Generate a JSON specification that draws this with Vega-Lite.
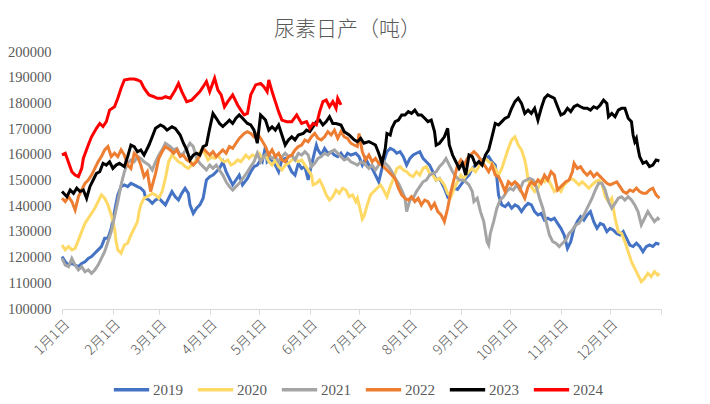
{
"$schema": "https://vega.github.io/schema/vega-lite/v6.json",
"width": 599, "height": 257,
"autosize": {"type": "none"},
"padding": {"left": 62, "top": 52, "right": 49, "bottom": 95},
"background": "white",
"title": {"text": "尿素日产（吨）", "font": "Noto Sans CJK SC", "fontSize": 21, "fontWeight": 300, "color": "#595959", "offset": 4, "anchor": "middle", "dx": -14},
"config": {"view": {"stroke": null}},
"data": {"values": [
{"year":"2019","day":0,"value":120400},{"year":"2019","day":2,"value":118400},{"year":"2019","day":4,"value":117100},{"year":"2019","day":6,"value":117700},{"year":"2019","day":8,"value":117100},{"year":"2019","day":10,"value":116500},{"year":"2019","day":12,"value":117700},{"year":"2019","day":14,"value":118400},{"year":"2019","day":16,"value":119700},{"year":"2019","day":18,"value":120400},{"year":"2019","day":20,"value":121700},{"year":"2019","day":22,"value":123000},{"year":"2019","day":24,"value":124300},{"year":"2019","day":26,"value":127500},{"year":"2019","day":28,"value":127500},{"year":"2019","day":30,"value":131400},{"year":"2019","day":32,"value":137900},{"year":"2019","day":34,"value":144400},{"year":"2019","day":36,"value":147600},{"year":"2019","day":38,"value":148300},{"year":"2019","day":40,"value":147600},{"year":"2019","day":42,"value":148900},{"year":"2019","day":44,"value":148300},{"year":"2019","day":46,"value":147600},{"year":"2019","day":48,"value":147000},{"year":"2019","day":50,"value":145700},{"year":"2019","day":51,"value":143100},{"year":"2019","day":53,"value":142400},{"year":"2019","day":55,"value":141100},{"year":"2019","day":57,"value":142400},{"year":"2019","day":59,"value":143100},{"year":"2019","day":61,"value":141800},{"year":"2019","day":63,"value":140500},{"year":"2019","day":65,"value":143100},{"year":"2019","day":67,"value":145700},{"year":"2019","day":69,"value":143700},{"year":"2019","day":71,"value":142400},{"year":"2019","day":73,"value":145000},{"year":"2019","day":75,"value":147000},{"year":"2019","day":77,"value":145000},{"year":"2019","day":78,"value":140500},{"year":"2019","day":80,"value":137200},{"year":"2019","day":82,"value":139200},{"year":"2019","day":84,"value":140500},{"year":"2019","day":86,"value":143100},{"year":"2019","day":88,"value":150200},{"year":"2019","day":90,"value":151500},{"year":"2019","day":92,"value":152100},{"year":"2019","day":94,"value":153400},{"year":"2019","day":96,"value":154700},{"year":"2019","day":98,"value":157300},{"year":"2019","day":100,"value":153400},{"year":"2019","day":102,"value":150800},{"year":"2019","day":104,"value":148300},{"year":"2019","day":106,"value":150200},{"year":"2019","day":108,"value":152100},{"year":"2019","day":110,"value":148300},{"year":"2019","day":113,"value":150800},{"year":"2019","day":115,"value":153400},{"year":"2019","day":117,"value":155400},{"year":"2019","day":119,"value":156000},{"year":"2019","day":121,"value":158000},{"year":"2019","day":122,"value":157300},{"year":"2019","day":124,"value":163200},{"year":"2019","day":125,"value":157300},{"year":"2019","day":127,"value":158600},{"year":"2019","day":130,"value":156000},{"year":"2019","day":132,"value":153400},{"year":"2019","day":134,"value":158000},{"year":"2019","day":136,"value":158600},{"year":"2019","day":138,"value":156000},{"year":"2019","day":140,"value":153400},{"year":"2019","day":142,"value":152100},{"year":"2019","day":144,"value":156700},{"year":"2019","day":146,"value":154700},{"year":"2019","day":148,"value":155400},{"year":"2019","day":150,"value":150200},{"year":"2019","day":152,"value":156000},{"year":"2019","day":154,"value":161200},{"year":"2019","day":155,"value":163800},{"year":"2019","day":156,"value":161900},{"year":"2019","day":158,"value":159900},{"year":"2019","day":160,"value":162500},{"year":"2019","day":162,"value":160600},{"year":"2019","day":164,"value":161200},{"year":"2019","day":166,"value":159900},{"year":"2019","day":168,"value":159300},{"year":"2019","day":170,"value":160600},{"year":"2019","day":172,"value":158600},{"year":"2019","day":174,"value":160600},{"year":"2019","day":176,"value":159900},{"year":"2019","day":179,"value":160600},{"year":"2019","day":181,"value":159300},{"year":"2019","day":183,"value":156000},{"year":"2019","day":185,"value":158600},{"year":"2019","day":187,"value":156000},{"year":"2019","day":189,"value":154700},{"year":"2019","day":191,"value":152100},{"year":"2019","day":193,"value":149500},{"year":"2019","day":194,"value":152100},{"year":"2019","day":196,"value":157300},{"year":"2019","day":198,"value":161200},{"year":"2019","day":200,"value":162500},{"year":"2019","day":202,"value":161900},{"year":"2019","day":204,"value":160600},{"year":"2019","day":206,"value":161200},{"year":"2019","day":208,"value":159300},{"year":"2019","day":210,"value":156000},{"year":"2019","day":212,"value":158600},{"year":"2019","day":214,"value":159900},{"year":"2019","day":216,"value":160600},{"year":"2019","day":218,"value":161200},{"year":"2019","day":220,"value":158600},{"year":"2019","day":222,"value":157300},{"year":"2019","day":224,"value":156000},{"year":"2019","day":226,"value":153400},{"year":"2019","day":228,"value":150200},{"year":"2019","day":230,"value":150800},{"year":"2019","day":233,"value":147000},{"year":"2019","day":235,"value":143700},{"year":"2019","day":237,"value":145000},{"year":"2019","day":239,"value":147000},{"year":"2019","day":241,"value":146500},{"year":"2019","day":243,"value":148300},{"year":"2019","day":246,"value":150800},{"year":"2019","day":248,"value":152100},{"year":"2019","day":250,"value":154700},{"year":"2019","day":252,"value":156000},{"year":"2019","day":254,"value":157300},{"year":"2019","day":256,"value":158000},{"year":"2019","day":258,"value":158600},{"year":"2019","day":260,"value":159300},{"year":"2019","day":262,"value":157300},{"year":"2019","day":264,"value":156000},{"year":"2019","day":265,"value":150800},{"year":"2019","day":266,"value":144400},{"year":"2019","day":268,"value":140500},{"year":"2019","day":270,"value":139800},{"year":"2019","day":272,"value":141100},{"year":"2019","day":274,"value":139200},{"year":"2019","day":276,"value":140500},{"year":"2019","day":278,"value":139800},{"year":"2019","day":280,"value":137900},{"year":"2019","day":282,"value":139800},{"year":"2019","day":284,"value":141100},{"year":"2019","day":286,"value":140500},{"year":"2019","day":288,"value":137900},{"year":"2019","day":290,"value":136600},{"year":"2019","day":292,"value":137200},{"year":"2019","day":294,"value":134600},{"year":"2019","day":296,"value":135300},{"year":"2019","day":298,"value":134600},{"year":"2019","day":300,"value":135300},{"year":"2019","day":302,"value":133300},{"year":"2019","day":304,"value":131400},{"year":"2019","day":306,"value":128800},{"year":"2019","day":308,"value":123600},{"year":"2019","day":310,"value":126200},{"year":"2019","day":312,"value":131400},{"year":"2019","day":314,"value":134000},{"year":"2019","day":316,"value":135900},{"year":"2019","day":318,"value":134600},{"year":"2019","day":320,"value":136600},{"year":"2019","day":322,"value":137900},{"year":"2019","day":324,"value":134000},{"year":"2019","day":326,"value":131400},{"year":"2019","day":328,"value":133300},{"year":"2019","day":330,"value":132700},{"year":"2019","day":332,"value":130100},{"year":"2019","day":334,"value":131400},{"year":"2019","day":336,"value":130700},{"year":"2019","day":338,"value":129400},{"year":"2019","day":340,"value":128800},{"year":"2019","day":342,"value":130100},{"year":"2019","day":344,"value":127500},{"year":"2019","day":346,"value":124900},{"year":"2019","day":348,"value":124300},{"year":"2019","day":350,"value":125600},{"year":"2019","day":352,"value":124300},{"year":"2019","day":354,"value":122300},{"year":"2019","day":356,"value":124300},{"year":"2019","day":358,"value":124900},{"year":"2019","day":360,"value":124300},{"year":"2019","day":362,"value":125600},{"year":"2019","day":364,"value":125200},
{"year":"2020","day":0,"value":124900},{"year":"2020","day":2,"value":123000},{"year":"2020","day":4,"value":124300},{"year":"2020","day":6,"value":123000},{"year":"2020","day":8,"value":123600},{"year":"2020","day":10,"value":126800},{"year":"2020","day":12,"value":130100},{"year":"2020","day":14,"value":133300},{"year":"2020","day":16,"value":135300},{"year":"2020","day":18,"value":137200},{"year":"2020","day":20,"value":139200},{"year":"2020","day":22,"value":141800},{"year":"2020","day":24,"value":144400},{"year":"2020","day":26,"value":143100},{"year":"2020","day":28,"value":140500},{"year":"2020","day":30,"value":136600},{"year":"2020","day":32,"value":131400},{"year":"2020","day":33,"value":126200},{"year":"2020","day":34,"value":123000},{"year":"2020","day":36,"value":121700},{"year":"2020","day":38,"value":124900},{"year":"2020","day":40,"value":125600},{"year":"2020","day":42,"value":128800},{"year":"2020","day":44,"value":131400},{"year":"2020","day":46,"value":134000},{"year":"2020","day":47,"value":137900},{"year":"2020","day":48,"value":140500},{"year":"2020","day":50,"value":143100},{"year":"2020","day":52,"value":143700},{"year":"2020","day":55,"value":145000},{"year":"2020","day":57,"value":144400},{"year":"2020","day":59,"value":143100},{"year":"2020","day":61,"value":145700},{"year":"2020","day":63,"value":150800},{"year":"2020","day":65,"value":157300},{"year":"2020","day":67,"value":159900},{"year":"2020","day":69,"value":158600},{"year":"2020","day":71,"value":157300},{"year":"2020","day":73,"value":156700},{"year":"2020","day":75,"value":155400},{"year":"2020","day":77,"value":154700},{"year":"2020","day":79,"value":156000},{"year":"2020","day":81,"value":157300},{"year":"2020","day":83,"value":159900},{"year":"2020","day":85,"value":161900},{"year":"2020","day":87,"value":160600},{"year":"2020","day":89,"value":158000},{"year":"2020","day":91,"value":159300},{"year":"2020","day":93,"value":158600},{"year":"2020","day":95,"value":159900},{"year":"2020","day":97,"value":158000},{"year":"2020","day":99,"value":157300},{"year":"2020","day":101,"value":158000},{"year":"2020","day":103,"value":156000},{"year":"2020","day":105,"value":156700},{"year":"2020","day":107,"value":158000},{"year":"2020","day":109,"value":157300},{"year":"2020","day":112,"value":159900},{"year":"2020","day":114,"value":158600},{"year":"2020","day":116,"value":159900},{"year":"2020","day":118,"value":159300},{"year":"2020","day":120,"value":160600},{"year":"2020","day":122,"value":158600},{"year":"2020","day":124,"value":159900},{"year":"2020","day":126,"value":157300},{"year":"2020","day":128,"value":156000},{"year":"2020","day":130,"value":158000},{"year":"2020","day":132,"value":155400},{"year":"2020","day":134,"value":154100},{"year":"2020","day":136,"value":156000},{"year":"2020","day":138,"value":156700},{"year":"2020","day":140,"value":158000},{"year":"2020","day":142,"value":158600},{"year":"2020","day":144,"value":157300},{"year":"2020","day":146,"value":158000},{"year":"2020","day":148,"value":156000},{"year":"2020","day":150,"value":154100},{"year":"2020","day":152,"value":152100},{"year":"2020","day":153,"value":148300},{"year":"2020","day":155,"value":148900},{"year":"2020","day":157,"value":150200},{"year":"2020","day":159,"value":147600},{"year":"2020","day":161,"value":144400},{"year":"2020","day":163,"value":142400},{"year":"2020","day":165,"value":143700},{"year":"2020","day":167,"value":146300},{"year":"2020","day":169,"value":145000},{"year":"2020","day":171,"value":147000},{"year":"2020","day":173,"value":146300},{"year":"2020","day":175,"value":143700},{"year":"2020","day":177,"value":144400},{"year":"2020","day":179,"value":141800},{"year":"2020","day":180,"value":143100},{"year":"2020","day":182,"value":137900},{"year":"2020","day":183,"value":135000},{"year":"2020","day":184,"value":136000},{"year":"2020","day":186,"value":140500},{"year":"2020","day":188,"value":144400},{"year":"2020","day":190,"value":145700},{"year":"2020","day":192,"value":147000},{"year":"2020","day":194,"value":148300},{"year":"2020","day":196,"value":146300},{"year":"2020","day":198,"value":143700},{"year":"2020","day":200,"value":147600},{"year":"2020","day":202,"value":150800},{"year":"2020","day":204,"value":154700},{"year":"2020","day":206,"value":155400},{"year":"2020","day":208,"value":154100},{"year":"2020","day":210,"value":153400},{"year":"2020","day":212,"value":152100},{"year":"2020","day":214,"value":151500},{"year":"2020","day":216,"value":153400},{"year":"2020","day":218,"value":152100},{"year":"2020","day":220,"value":154700},{"year":"2020","day":222,"value":155400},{"year":"2020","day":224,"value":152800},{"year":"2020","day":226,"value":152100},{"year":"2020","day":228,"value":150200},{"year":"2020","day":230,"value":150800},{"year":"2020","day":233,"value":148300},{"year":"2020","day":235,"value":145000},{"year":"2020","day":237,"value":143700},{"year":"2020","day":239,"value":147000},{"year":"2020","day":241,"value":149500},{"year":"2020","day":243,"value":152100},{"year":"2020","day":245,"value":150800},{"year":"2020","day":247,"value":152800},{"year":"2020","day":250,"value":154700},{"year":"2020","day":252,"value":153400},{"year":"2020","day":254,"value":155400},{"year":"2020","day":256,"value":157300},{"year":"2020","day":258,"value":158600},{"year":"2020","day":260,"value":157300},{"year":"2020","day":262,"value":156700},{"year":"2020","day":264,"value":154700},{"year":"2020","day":266,"value":152100},{"year":"2020","day":268,"value":154700},{"year":"2020","day":270,"value":158600},{"year":"2020","day":272,"value":162500},{"year":"2020","day":274,"value":165800},{"year":"2020","day":276,"value":167000},{"year":"2020","day":278,"value":163800},{"year":"2020","day":280,"value":161900},{"year":"2020","day":282,"value":158000},{"year":"2020","day":283,"value":154700},{"year":"2020","day":284,"value":150200},{"year":"2020","day":286,"value":147600},{"year":"2020","day":288,"value":145700},{"year":"2020","day":290,"value":147000},{"year":"2020","day":292,"value":150200},{"year":"2020","day":294,"value":149500},{"year":"2020","day":296,"value":150800},{"year":"2020","day":298,"value":148300},{"year":"2020","day":300,"value":145700},{"year":"2020","day":302,"value":147000},{"year":"2020","day":304,"value":145700},{"year":"2020","day":306,"value":148300},{"year":"2020","day":308,"value":149500},{"year":"2020","day":310,"value":150800},{"year":"2020","day":312,"value":150200},{"year":"2020","day":315,"value":148300},{"year":"2020","day":317,"value":149500},{"year":"2020","day":319,"value":148300},{"year":"2020","day":321,"value":147000},{"year":"2020","day":323,"value":148300},{"year":"2020","day":325,"value":149500},{"year":"2020","day":327,"value":150200},{"year":"2020","day":329,"value":148900},{"year":"2020","day":331,"value":143700},{"year":"2020","day":333,"value":141800},{"year":"2020","day":335,"value":143100},{"year":"2020","day":337,"value":135300},{"year":"2020","day":339,"value":130100},{"year":"2020","day":341,"value":129400},{"year":"2020","day":343,"value":126200},{"year":"2020","day":345,"value":122300},{"year":"2020","day":347,"value":118400},{"year":"2020","day":349,"value":115800},{"year":"2020","day":351,"value":113200},{"year":"2020","day":353,"value":110600},{"year":"2020","day":355,"value":111900},{"year":"2020","day":357,"value":113900},{"year":"2020","day":359,"value":112600},{"year":"2020","day":361,"value":114500},{"year":"2020","day":363,"value":113200},{"year":"2020","day":364,"value":113900},
{"year":"2021","day":0,"value":119700},{"year":"2021","day":2,"value":117100},{"year":"2021","day":4,"value":116500},{"year":"2021","day":6,"value":119700},{"year":"2021","day":8,"value":117100},{"year":"2021","day":10,"value":115200},{"year":"2021","day":12,"value":116500},{"year":"2021","day":14,"value":114500},{"year":"2021","day":16,"value":115200},{"year":"2021","day":18,"value":113900},{"year":"2021","day":20,"value":115200},{"year":"2021","day":22,"value":117100},{"year":"2021","day":24,"value":119700},{"year":"2021","day":26,"value":122300},{"year":"2021","day":28,"value":126200},{"year":"2021","day":30,"value":130100},{"year":"2021","day":32,"value":135900},{"year":"2021","day":34,"value":141800},{"year":"2021","day":36,"value":148300},{"year":"2021","day":38,"value":153400},{"year":"2021","day":40,"value":156700},{"year":"2021","day":42,"value":158000},{"year":"2021","day":44,"value":157300},{"year":"2021","day":46,"value":159300},{"year":"2021","day":48,"value":158600},{"year":"2021","day":50,"value":157300},{"year":"2021","day":53,"value":156000},{"year":"2021","day":55,"value":154100},{"year":"2021","day":57,"value":157300},{"year":"2021","day":59,"value":159900},{"year":"2021","day":61,"value":161900},{"year":"2021","day":63,"value":164500},{"year":"2021","day":66,"value":163200},{"year":"2021","day":68,"value":161900},{"year":"2021","day":70,"value":162500},{"year":"2021","day":72,"value":159900},{"year":"2021","day":74,"value":160600},{"year":"2021","day":76,"value":162500},{"year":"2021","day":78,"value":164500},{"year":"2021","day":80,"value":163200},{"year":"2021","day":82,"value":158600},{"year":"2021","day":84,"value":156700},{"year":"2021","day":86,"value":155400},{"year":"2021","day":88,"value":154100},{"year":"2021","day":90,"value":156000},{"year":"2021","day":92,"value":154700},{"year":"2021","day":94,"value":156000},{"year":"2021","day":96,"value":154100},{"year":"2021","day":98,"value":152100},{"year":"2021","day":100,"value":149500},{"year":"2021","day":102,"value":147600},{"year":"2021","day":104,"value":146300},{"year":"2021","day":106,"value":147600},{"year":"2021","day":108,"value":148900},{"year":"2021","day":111,"value":151500},{"year":"2021","day":113,"value":153400},{"year":"2021","day":115,"value":155400},{"year":"2021","day":117,"value":157300},{"year":"2021","day":119,"value":160600},{"year":"2021","day":121,"value":157300},{"year":"2021","day":123,"value":159300},{"year":"2021","day":125,"value":160600},{"year":"2021","day":128,"value":158600},{"year":"2021","day":130,"value":159300},{"year":"2021","day":132,"value":157300},{"year":"2021","day":134,"value":159300},{"year":"2021","day":136,"value":160600},{"year":"2021","day":138,"value":159300},{"year":"2021","day":140,"value":159900},{"year":"2021","day":142,"value":158000},{"year":"2021","day":144,"value":160600},{"year":"2021","day":146,"value":159900},{"year":"2021","day":148,"value":161200},{"year":"2021","day":150,"value":159900},{"year":"2021","day":152,"value":155400},{"year":"2021","day":154,"value":156700},{"year":"2021","day":156,"value":158600},{"year":"2021","day":158,"value":159300},{"year":"2021","day":160,"value":160600},{"year":"2021","day":162,"value":159900},{"year":"2021","day":164,"value":161200},{"year":"2021","day":166,"value":161900},{"year":"2021","day":168,"value":160600},{"year":"2021","day":170,"value":159300},{"year":"2021","day":172,"value":158000},{"year":"2021","day":174,"value":158600},{"year":"2021","day":176,"value":157300},{"year":"2021","day":178,"value":156700},{"year":"2021","day":180,"value":156000},{"year":"2021","day":182,"value":157300},{"year":"2021","day":184,"value":156700},{"year":"2021","day":187,"value":154700},{"year":"2021","day":189,"value":156000},{"year":"2021","day":191,"value":154100},{"year":"2021","day":193,"value":156000},{"year":"2021","day":195,"value":158600},{"year":"2021","day":197,"value":156700},{"year":"2021","day":199,"value":155400},{"year":"2021","day":201,"value":153400},{"year":"2021","day":203,"value":150800},{"year":"2021","day":205,"value":148900},{"year":"2021","day":207,"value":146300},{"year":"2021","day":209,"value":143100},{"year":"2021","day":210,"value":137900},{"year":"2021","day":212,"value":142400},{"year":"2021","day":214,"value":143100},{"year":"2021","day":216,"value":145700},{"year":"2021","day":218,"value":147600},{"year":"2021","day":220,"value":149500},{"year":"2021","day":222,"value":150200},{"year":"2021","day":224,"value":152100},{"year":"2021","day":226,"value":152800},{"year":"2021","day":228,"value":153400},{"year":"2021","day":230,"value":155400},{"year":"2021","day":232,"value":156700},{"year":"2021","day":234,"value":158600},{"year":"2021","day":236,"value":156000},{"year":"2021","day":238,"value":153400},{"year":"2021","day":240,"value":151500},{"year":"2021","day":242,"value":150200},{"year":"2021","day":244,"value":150200},{"year":"2021","day":246,"value":149500},{"year":"2021","day":248,"value":148300},{"year":"2021","day":250,"value":145700},{"year":"2021","day":251,"value":141800},{"year":"2021","day":253,"value":143100},{"year":"2021","day":255,"value":137900},{"year":"2021","day":257,"value":134000},{"year":"2021","day":258,"value":130100},{"year":"2021","day":259,"value":126200},{"year":"2021","day":260,"value":124900},{"year":"2021","day":261,"value":129400},{"year":"2021","day":263,"value":134000},{"year":"2021","day":265,"value":139200},{"year":"2021","day":267,"value":142400},{"year":"2021","day":269,"value":143700},{"year":"2021","day":271,"value":145700},{"year":"2021","day":273,"value":147000},{"year":"2021","day":275,"value":146300},{"year":"2021","day":277,"value":148300},{"year":"2021","day":279,"value":146300},{"year":"2021","day":281,"value":149500},{"year":"2021","day":283,"value":150200},{"year":"2021","day":285,"value":150800},{"year":"2021","day":287,"value":150200},{"year":"2021","day":289,"value":147600},{"year":"2021","day":291,"value":143100},{"year":"2021","day":293,"value":139200},{"year":"2021","day":295,"value":134000},{"year":"2021","day":297,"value":128800},{"year":"2021","day":299,"value":126200},{"year":"2021","day":301,"value":125600},{"year":"2021","day":303,"value":124300},{"year":"2021","day":305,"value":125600},{"year":"2021","day":307,"value":126800},{"year":"2021","day":309,"value":129400},{"year":"2021","day":311,"value":130700},{"year":"2021","day":313,"value":132700},{"year":"2021","day":315,"value":133300},{"year":"2021","day":317,"value":135300},{"year":"2021","day":319,"value":137900},{"year":"2021","day":321,"value":140500},{"year":"2021","day":323,"value":143100},{"year":"2021","day":325,"value":146300},{"year":"2021","day":327,"value":148900},{"year":"2021","day":329,"value":148900},{"year":"2021","day":331,"value":146300},{"year":"2021","day":333,"value":141800},{"year":"2021","day":335,"value":139200},{"year":"2021","day":337,"value":141100},{"year":"2021","day":339,"value":143100},{"year":"2021","day":341,"value":143700},{"year":"2021","day":343,"value":142400},{"year":"2021","day":345,"value":143700},{"year":"2021","day":347,"value":142400},{"year":"2021","day":349,"value":140500},{"year":"2021","day":351,"value":137900},{"year":"2021","day":353,"value":132700},{"year":"2021","day":355,"value":135300},{"year":"2021","day":357,"value":137900},{"year":"2021","day":359,"value":135900},{"year":"2021","day":361,"value":134000},{"year":"2021","day":363,"value":135300},{"year":"2021","day":364,"value":134600},
{"year":"2022","day":0,"value":143100},{"year":"2022","day":2,"value":141800},{"year":"2022","day":4,"value":143700},{"year":"2022","day":6,"value":141800},{"year":"2022","day":8,"value":138500},{"year":"2022","day":10,"value":143700},{"year":"2022","day":12,"value":146300},{"year":"2022","day":14,"value":148900},{"year":"2022","day":16,"value":150200},{"year":"2022","day":18,"value":152100},{"year":"2022","day":20,"value":154700},{"year":"2022","day":22,"value":157300},{"year":"2022","day":24,"value":159300},{"year":"2022","day":26,"value":161900},{"year":"2022","day":28,"value":163200},{"year":"2022","day":30,"value":159300},{"year":"2022","day":32,"value":160600},{"year":"2022","day":34,"value":159300},{"year":"2022","day":36,"value":161900},{"year":"2022","day":38,"value":159900},{"year":"2022","day":40,"value":156000},{"year":"2022","day":42,"value":154700},{"year":"2022","day":44,"value":160600},{"year":"2022","day":46,"value":159300},{"year":"2022","day":48,"value":156000},{"year":"2022","day":50,"value":151500},{"year":"2022","day":52,"value":153400},{"year":"2022","day":54,"value":145700},{"year":"2022","day":57,"value":152800},{"year":"2022","day":59,"value":158600},{"year":"2022","day":61,"value":161200},{"year":"2022","day":63,"value":163200},{"year":"2022","day":66,"value":161900},{"year":"2022","day":68,"value":160600},{"year":"2022","day":70,"value":161900},{"year":"2022","day":72,"value":159300},{"year":"2022","day":74,"value":159900},{"year":"2022","day":76,"value":158000},{"year":"2022","day":78,"value":157300},{"year":"2022","day":80,"value":156000},{"year":"2022","day":82,"value":157300},{"year":"2022","day":84,"value":159900},{"year":"2022","day":86,"value":162500},{"year":"2022","day":88,"value":161200},{"year":"2022","day":90,"value":159900},{"year":"2022","day":92,"value":161200},{"year":"2022","day":94,"value":159300},{"year":"2022","day":96,"value":160600},{"year":"2022","day":98,"value":161900},{"year":"2022","day":100,"value":160600},{"year":"2022","day":102,"value":163200},{"year":"2022","day":104,"value":162500},{"year":"2022","day":106,"value":164500},{"year":"2022","day":108,"value":166400},{"year":"2022","day":111,"value":168300},{"year":"2022","day":113,"value":169000},{"year":"2022","day":115,"value":168300},{"year":"2022","day":117,"value":167000},{"year":"2022","day":119,"value":168300},{"year":"2022","day":121,"value":166400},{"year":"2022","day":124,"value":163200},{"year":"2022","day":126,"value":159900},{"year":"2022","day":128,"value":161900},{"year":"2022","day":130,"value":159300},{"year":"2022","day":132,"value":160600},{"year":"2022","day":134,"value":158000},{"year":"2022","day":136,"value":157300},{"year":"2022","day":138,"value":159300},{"year":"2022","day":140,"value":159900},{"year":"2022","day":142,"value":161900},{"year":"2022","day":144,"value":163200},{"year":"2022","day":146,"value":163800},{"year":"2022","day":148,"value":165800},{"year":"2022","day":150,"value":165100},{"year":"2022","day":152,"value":167000},{"year":"2022","day":154,"value":168300},{"year":"2022","day":156,"value":166400},{"year":"2022","day":158,"value":165800},{"year":"2022","day":160,"value":167000},{"year":"2022","day":162,"value":169000},{"year":"2022","day":164,"value":167700},{"year":"2022","day":166,"value":169600},{"year":"2022","day":168,"value":166400},{"year":"2022","day":170,"value":169000},{"year":"2022","day":172,"value":167000},{"year":"2022","day":174,"value":166400},{"year":"2022","day":176,"value":164500},{"year":"2022","day":178,"value":163800},{"year":"2022","day":180,"value":163200},{"year":"2022","day":181,"value":168300},{"year":"2022","day":183,"value":161200},{"year":"2022","day":185,"value":158000},{"year":"2022","day":187,"value":159900},{"year":"2022","day":189,"value":157300},{"year":"2022","day":191,"value":158600},{"year":"2022","day":193,"value":156700},{"year":"2022","day":195,"value":156000},{"year":"2022","day":197,"value":154700},{"year":"2022","day":199,"value":153400},{"year":"2022","day":201,"value":152100},{"year":"2022","day":203,"value":150800},{"year":"2022","day":205,"value":147000},{"year":"2022","day":207,"value":144400},{"year":"2022","day":209,"value":143100},{"year":"2022","day":211,"value":142400},{"year":"2022","day":213,"value":143700},{"year":"2022","day":215,"value":141800},{"year":"2022","day":217,"value":143100},{"year":"2022","day":219,"value":140500},{"year":"2022","day":221,"value":142400},{"year":"2022","day":223,"value":141800},{"year":"2022","day":225,"value":139200},{"year":"2022","day":227,"value":141100},{"year":"2022","day":229,"value":137900},{"year":"2022","day":231,"value":136600},{"year":"2022","day":233,"value":134000},{"year":"2022","day":235,"value":139200},{"year":"2022","day":237,"value":145700},{"year":"2022","day":239,"value":150800},{"year":"2022","day":241,"value":156000},{"year":"2022","day":243,"value":158000},{"year":"2022","day":245,"value":156000},{"year":"2022","day":247,"value":158600},{"year":"2022","day":249,"value":159900},{"year":"2022","day":251,"value":161200},{"year":"2022","day":253,"value":160000},{"year":"2022","day":256,"value":157300},{"year":"2022","day":258,"value":155400},{"year":"2022","day":260,"value":153400},{"year":"2022","day":262,"value":156000},{"year":"2022","day":264,"value":152100},{"year":"2022","day":266,"value":151500},{"year":"2022","day":268,"value":148900},{"year":"2022","day":270,"value":145700},{"year":"2022","day":272,"value":149500},{"year":"2022","day":274,"value":148300},{"year":"2022","day":276,"value":149500},{"year":"2022","day":278,"value":148300},{"year":"2022","day":280,"value":145700},{"year":"2022","day":282,"value":143100},{"year":"2022","day":284,"value":147600},{"year":"2022","day":286,"value":149500},{"year":"2022","day":288,"value":148300},{"year":"2022","day":290,"value":150200},{"year":"2022","day":292,"value":148900},{"year":"2022","day":294,"value":152100},{"year":"2022","day":296,"value":150200},{"year":"2022","day":298,"value":153400},{"year":"2022","day":300,"value":152100},{"year":"2022","day":302,"value":146300},{"year":"2022","day":304,"value":147600},{"year":"2022","day":307,"value":149500},{"year":"2022","day":309,"value":150200},{"year":"2022","day":311,"value":153400},{"year":"2022","day":312,"value":156700},{"year":"2022","day":314,"value":154700},{"year":"2022","day":316,"value":155400},{"year":"2022","day":318,"value":153400},{"year":"2022","day":320,"value":152100},{"year":"2022","day":322,"value":153400},{"year":"2022","day":324,"value":151500},{"year":"2022","day":326,"value":152800},{"year":"2022","day":328,"value":151500},{"year":"2022","day":330,"value":150200},{"year":"2022","day":332,"value":148900},{"year":"2022","day":334,"value":148300},{"year":"2022","day":336,"value":148900},{"year":"2022","day":338,"value":149500},{"year":"2022","day":340,"value":147600},{"year":"2022","day":342,"value":145700},{"year":"2022","day":344,"value":145000},{"year":"2022","day":346,"value":146300},{"year":"2022","day":348,"value":145700},{"year":"2022","day":350,"value":147000},{"year":"2022","day":352,"value":145700},{"year":"2022","day":354,"value":145000},{"year":"2022","day":356,"value":145000},{"year":"2022","day":358,"value":146300},{"year":"2022","day":360,"value":147000},{"year":"2022","day":362,"value":144400},{"year":"2022","day":364,"value":143100},
{"year":"2023","day":0,"value":145700},{"year":"2023","day":3,"value":143700},{"year":"2023","day":5,"value":146300},{"year":"2023","day":7,"value":145000},{"year":"2023","day":9,"value":147000},{"year":"2023","day":11,"value":145700},{"year":"2023","day":13,"value":146300},{"year":"2023","day":15,"value":143100},{"year":"2023","day":17,"value":147600},{"year":"2023","day":19,"value":150200},{"year":"2023","day":21,"value":152800},{"year":"2023","day":23,"value":153400},{"year":"2023","day":25,"value":156700},{"year":"2023","day":27,"value":156000},{"year":"2023","day":29,"value":157300},{"year":"2023","day":31,"value":154700},{"year":"2023","day":33,"value":156000},{"year":"2023","day":35,"value":156700},{"year":"2023","day":38,"value":155400},{"year":"2023","day":40,"value":159300},{"year":"2023","day":42,"value":163800},{"year":"2023","day":44,"value":163200},{"year":"2023","day":46,"value":161200},{"year":"2023","day":48,"value":161900},{"year":"2023","day":50,"value":159900},{"year":"2023","day":53,"value":163800},{"year":"2023","day":55,"value":167000},{"year":"2023","day":57,"value":170300},{"year":"2023","day":60,"value":171600},{"year":"2023","day":62,"value":170900},{"year":"2023","day":64,"value":169600},{"year":"2023","day":67,"value":170900},{"year":"2023","day":69,"value":170300},{"year":"2023","day":72,"value":167700},{"year":"2023","day":74,"value":164500},{"year":"2023","day":76,"value":161900},{"year":"2023","day":78,"value":158000},{"year":"2023","day":80,"value":159900},{"year":"2023","day":82,"value":160600},{"year":"2023","day":84,"value":159900},{"year":"2023","day":86,"value":163200},{"year":"2023","day":88,"value":163800},{"year":"2023","day":90,"value":170300},{"year":"2023","day":92,"value":176100},{"year":"2023","day":94,"value":174200},{"year":"2023","day":96,"value":172200},{"year":"2023","day":98,"value":171000},{"year":"2023","day":100,"value":172200},{"year":"2023","day":102,"value":173500},{"year":"2023","day":104,"value":172200},{"year":"2023","day":106,"value":174200},{"year":"2023","day":108,"value":175500},{"year":"2023","day":110,"value":174200},{"year":"2023","day":113,"value":172200},{"year":"2023","day":115,"value":171600},{"year":"2023","day":117,"value":169600},{"year":"2023","day":119,"value":164500},{"year":"2023","day":121,"value":175500},{"year":"2023","day":123,"value":174200},{"year":"2023","day":124,"value":173500},{"year":"2023","day":126,"value":169600},{"year":"2023","day":128,"value":170900},{"year":"2023","day":130,"value":169600},{"year":"2023","day":132,"value":171600},{"year":"2023","day":134,"value":167700},{"year":"2023","day":136,"value":163800},{"year":"2023","day":138,"value":165800},{"year":"2023","day":140,"value":167000},{"year":"2023","day":142,"value":165800},{"year":"2023","day":144,"value":167700},{"year":"2023","day":147,"value":168300},{"year":"2023","day":149,"value":169600},{"year":"2023","day":151,"value":169000},{"year":"2023","day":153,"value":170900},{"year":"2023","day":155,"value":172900},{"year":"2023","day":157,"value":173500},{"year":"2023","day":159,"value":171600},{"year":"2023","day":161,"value":172900},{"year":"2023","day":163,"value":174800},{"year":"2023","day":165,"value":172200},{"year":"2023","day":167,"value":172200},{"year":"2023","day":170,"value":171600},{"year":"2023","day":172,"value":169000},{"year":"2023","day":175,"value":167700},{"year":"2023","day":178,"value":165800},{"year":"2023","day":180,"value":165100},{"year":"2023","day":182,"value":166400},{"year":"2023","day":184,"value":164500},{"year":"2023","day":187,"value":165100},{"year":"2023","day":189,"value":164500},{"year":"2023","day":191,"value":163800},{"year":"2023","day":193,"value":160600},{"year":"2023","day":195,"value":156700},{"year":"2023","day":197,"value":162500},{"year":"2023","day":198,"value":168300},{"year":"2023","day":200,"value":167700},{"year":"2023","day":201,"value":170300},{"year":"2023","day":203,"value":172900},{"year":"2023","day":205,"value":173500},{"year":"2023","day":207,"value":175500},{"year":"2023","day":209,"value":175500},{"year":"2023","day":211,"value":176800},{"year":"2023","day":213,"value":176100},{"year":"2023","day":215,"value":177400},{"year":"2023","day":217,"value":175500},{"year":"2023","day":219,"value":175500},{"year":"2023","day":221,"value":174200},{"year":"2023","day":223,"value":172900},{"year":"2023","day":225,"value":173500},{"year":"2023","day":227,"value":169000},{"year":"2023","day":228,"value":163800},{"year":"2023","day":230,"value":164500},{"year":"2023","day":233,"value":167000},{"year":"2023","day":235,"value":170300},{"year":"2023","day":236,"value":163800},{"year":"2023","day":238,"value":159900},{"year":"2023","day":240,"value":157300},{"year":"2023","day":242,"value":154700},{"year":"2023","day":244,"value":156700},{"year":"2023","day":246,"value":152100},{"year":"2023","day":248,"value":159900},{"year":"2023","day":250,"value":159300},{"year":"2023","day":252,"value":156000},{"year":"2023","day":254,"value":157300},{"year":"2023","day":256,"value":156000},{"year":"2023","day":258,"value":159900},{"year":"2023","day":260,"value":161900},{"year":"2023","day":262,"value":167000},{"year":"2023","day":264,"value":172200},{"year":"2023","day":266,"value":171600},{"year":"2023","day":268,"value":172900},{"year":"2023","day":270,"value":174200},{"year":"2023","day":272,"value":174800},{"year":"2023","day":274,"value":178100},{"year":"2023","day":276,"value":180700},{"year":"2023","day":278,"value":182000},{"year":"2023","day":280,"value":180000},{"year":"2023","day":282,"value":176100},{"year":"2023","day":284,"value":177400},{"year":"2023","day":286,"value":176100},{"year":"2023","day":288,"value":178100},{"year":"2023","day":290,"value":173500},{"year":"2023","day":292,"value":178100},{"year":"2023","day":294,"value":182000},{"year":"2023","day":296,"value":183300},{"year":"2023","day":298,"value":182600},{"year":"2023","day":300,"value":182000},{"year":"2023","day":302,"value":178700},{"year":"2023","day":304,"value":175500},{"year":"2023","day":306,"value":176100},{"year":"2023","day":308,"value":178100},{"year":"2023","day":310,"value":176800},{"year":"2023","day":312,"value":178700},{"year":"2023","day":314,"value":179400},{"year":"2023","day":316,"value":178700},{"year":"2023","day":318,"value":178100},{"year":"2023","day":320,"value":178100},{"year":"2023","day":322,"value":177400},{"year":"2023","day":324,"value":178700},{"year":"2023","day":326,"value":178100},{"year":"2023","day":328,"value":179400},{"year":"2023","day":330,"value":181300},{"year":"2023","day":332,"value":180000},{"year":"2023","day":333,"value":174800},{"year":"2023","day":335,"value":176100},{"year":"2023","day":337,"value":174800},{"year":"2023","day":339,"value":177400},{"year":"2023","day":341,"value":178100},{"year":"2023","day":343,"value":178100},{"year":"2023","day":345,"value":174200},{"year":"2023","day":347,"value":172900},{"year":"2023","day":348,"value":167700},{"year":"2023","day":349,"value":165100},{"year":"2023","day":350,"value":166400},{"year":"2023","day":351,"value":162500},{"year":"2023","day":352,"value":159300},{"year":"2023","day":354,"value":156700},{"year":"2023","day":356,"value":157300},{"year":"2023","day":358,"value":155400},{"year":"2023","day":360,"value":156000},{"year":"2023","day":362,"value":158000},{"year":"2023","day":364,"value":157600},
{"year":"2024","day":0,"value":160000},{"year":"2024","day":2,"value":160600},{"year":"2024","day":4,"value":157000},{"year":"2024","day":6,"value":153400},{"year":"2024","day":8,"value":152100},{"year":"2024","day":10,"value":151500},{"year":"2024","day":12,"value":154700},{"year":"2024","day":13,"value":158600},{"year":"2024","day":16,"value":163800},{"year":"2024","day":18,"value":167000},{"year":"2024","day":21,"value":170300},{"year":"2024","day":23,"value":172200},{"year":"2024","day":25,"value":171000},{"year":"2024","day":27,"value":172900},{"year":"2024","day":29,"value":177400},{"year":"2024","day":32,"value":178700},{"year":"2024","day":34,"value":182000},{"year":"2024","day":36,"value":185900},{"year":"2024","day":38,"value":189100},{"year":"2024","day":41,"value":189500},{"year":"2024","day":44,"value":189500},{"year":"2024","day":46,"value":189100},{"year":"2024","day":48,"value":188500},{"year":"2024","day":50,"value":185900},{"year":"2024","day":53,"value":183300},{"year":"2024","day":56,"value":182600},{"year":"2024","day":58,"value":182000},{"year":"2024","day":61,"value":182000},{"year":"2024","day":63,"value":182600},{"year":"2024","day":66,"value":182000},{"year":"2024","day":69,"value":185200},{"year":"2024","day":71,"value":187800},{"year":"2024","day":73,"value":184600},{"year":"2024","day":76,"value":180700},{"year":"2024","day":79,"value":181300},{"year":"2024","day":82,"value":183300},{"year":"2024","day":84,"value":184600},{"year":"2024","day":86,"value":186500},{"year":"2024","day":88,"value":188500},{"year":"2024","day":90,"value":184600},{"year":"2024","day":93,"value":189800},{"year":"2024","day":95,"value":185200},{"year":"2024","day":97,"value":183300},{"year":"2024","day":99,"value":178700},{"year":"2024","day":101,"value":180700},{"year":"2024","day":104,"value":183300},{"year":"2024","day":107,"value":179400},{"year":"2024","day":109,"value":177400},{"year":"2024","day":111,"value":175500},{"year":"2024","day":113,"value":176100},{"year":"2024","day":115,"value":183300},{"year":"2024","day":118,"value":187200},{"year":"2024","day":121,"value":187800},{"year":"2024","day":123,"value":186500},{"year":"2024","day":125,"value":184600},{"year":"2024","day":126,"value":189100},{"year":"2024","day":128,"value":184600},{"year":"2024","day":130,"value":180700},{"year":"2024","day":132,"value":176800},{"year":"2024","day":134,"value":173500},{"year":"2024","day":137,"value":172900},{"year":"2024","day":140,"value":172900},{"year":"2024","day":143,"value":175500},{"year":"2024","day":146,"value":172200},{"year":"2024","day":149,"value":172900},{"year":"2024","day":151,"value":170300},{"year":"2024","day":153,"value":172200},{"year":"2024","day":155,"value":171600},{"year":"2024","day":157,"value":176800},{"year":"2024","day":159,"value":180700},{"year":"2024","day":161,"value":181300},{"year":"2024","day":163,"value":178700},{"year":"2024","day":165,"value":180700},{"year":"2024","day":167,"value":178100},{"year":"2024","day":168,"value":182000},{"year":"2024","day":170,"value":179400}
]},
"mark": {"type": "line", "strokeWidth": 3, "interpolate": "linear"},
"encoding": {
"x": {"field": "day", "type": "quantitative",
 "scale": {"domain": [0, 365], "nice": false, "zero": false},
 "axis": {"title": null, "values": [0,31,59,90,120,151,181,212,243,273,304,334,365],
  "labelExpr": "datum.value >= 365 ? '' : (month(datetime(2019,0,1+datum.value))+1) + '月1日'",
  "labelAngle": -45, "labelAlign": "right", "labelBaseline": "top",
  "labelFont": "Noto Sans CJK SC", "labelFontSize": 14, "labelFontWeight": 300, "labelColor": "#595959",
  "grid": false, "domainColor": "#d9d9d9", "tickColor": "#d9d9d9", "tickSize": 5, "labelPadding": 3}},
"y": {"field": "value", "type": "quantitative",
 "scale": {"domain": [100000, 200000], "nice": false, "zero": false},
 "axis": {"title": null, "values": [100000,110000,120000,130000,140000,150000,160000,170000,180000,190000,200000],
  "format": "d", "grid": false, "domain": false, "ticks": false, "labelPadding": 11,
  "labelFont": "Liberation Serif", "labelFontSize": 14.5, "labelColor": "#595959"}},
"color": {"field": "year", "type": "nominal",
 "scale": {"domain": ["2019","2020","2021","2022","2023","2024"], "range": ["#4472C4","#FFD966","#A5A5A5","#ED7D31","#000000","#FF0000"]},
 "legend": {"title": null, "orient": "none", "legendX": 50, "legendY": 318, "direction": "horizontal", "symbolType": "stroke", "symbolSize": 1250, "symbolStrokeWidth": 3.5,
  "labelFont": "Liberation Serif", "labelFontSize": 15, "labelColor": "#595959", "columnPadding": 7, "labelOffset": 2}}
}
}
